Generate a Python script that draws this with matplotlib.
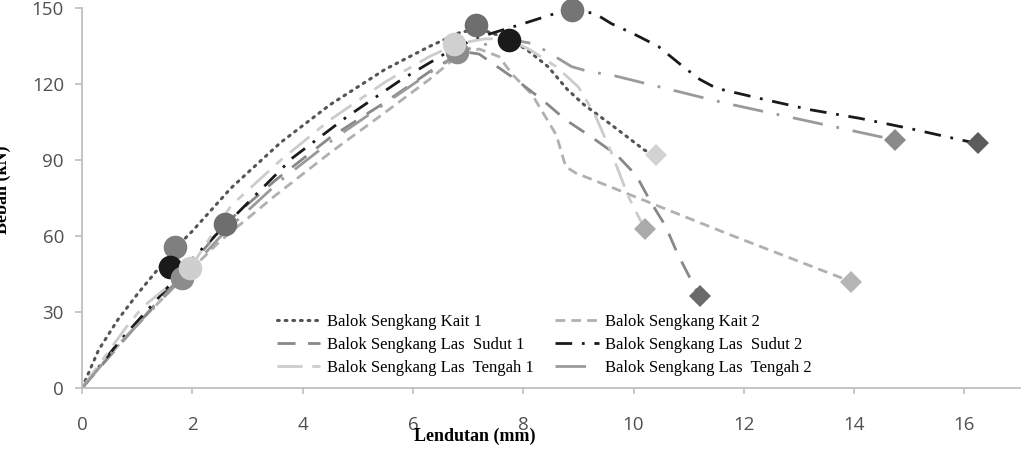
import matplotlib
matplotlib.use("Agg")
import matplotlib.pyplot as plt

# Balok Sengkang Kait 1
kait1_x = [0, 0.3, 0.65, 1.0, 1.68, 2.0, 2.7, 3.6, 4.5, 5.5, 6.3, 6.85, 7.2, 7.6, 8.05, 8.45, 8.8, 9.1, 9.6, 10.2, 10.4]
kait1_y = [0, 15, 27, 37, 55, 62, 79, 97, 112, 126, 135, 140.5, 142, 139, 134, 127, 118, 112, 104, 94, 92]

# Balok Sengkang Kait 2
kait2_x = [0, 0.5, 1.0, 1.8, 2.5, 3.5, 4.5, 5.5, 6.3, 6.8, 7.2, 7.56, 7.8, 8.16, 8.6, 8.77, 8.95, 11.7, 13.95]
kait2_y = [0, 13, 25, 43, 58, 76, 93, 109, 122, 131, 134, 131, 124, 116, 100, 87.5, 85, 61, 42]

# Balok Sengkang Las Sudut 1
sudut1_x = [0, 0.6, 1.2, 1.8, 2.6, 3.5, 4.5, 5.5, 6.3, 6.9, 7.2, 7.86, 8.34, 8.77, 9.25, 9.7, 10.05, 10.3, 10.58, 10.8, 11.2]
sudut1_y = [0, 15, 30, 44, 65, 82, 99, 113, 125, 133, 132, 122, 114, 106, 99, 92, 84, 74, 64, 53, 36]

# Balok Sengkang Las Sudut 2
sudut2_x = [0, 0.7, 1.36, 2.04, 2.86, 3.82, 4.79, 5.8, 6.8, 7.4, 8.0, 8.5, 8.9, 9.3, 9.6, 10.0, 10.45, 10.9, 11.2, 11.5, 12.26, 13.2, 14.1, 15.0, 15.8, 16.2]
sudut2_y = [0, 19, 35, 52, 70, 91, 107, 122, 135, 140, 144, 147.5, 149.5, 148, 144, 140, 135, 127, 122, 118.5, 114.6, 110, 106.6, 102.6, 98.7, 96.8]

# Balok Sengkang Las Tengah 1
tengah1_x = [0, 0.8, 1.1, 1.95, 2.7, 3.6, 4.5, 5.5, 6.3, 6.8, 7.3, 7.7, 8.1, 8.6, 9.0, 9.3, 9.6, 9.9, 10.2]
tengah1_y = [0, 24, 32, 47, 72, 90, 106, 121, 131, 136, 138, 138, 134, 127, 119, 108, 93, 76, 63]

# Balok Sengkang Las Tengah 2
tengah2_x = [0, 0.7, 1.8, 2.6, 3.6, 4.6, 5.6, 6.4, 7.0, 7.7, 8.2, 8.88, 9.2, 9.6, 11.66, 14.75]
tengah2_y = [0, 18, 43, 62, 82, 99, 114, 126, 134, 138, 136, 127, 125, 123.7, 112.6, 98]

# circle markers (first crack / peak) and diamond markers (end)
circle_x = [1.68, 1.59, 1.81, 1.95, 2.59, 7.14, 6.8, 6.75, 7.74, 8.88]
circle_y = [55.6, 47.7, 43.3, 47.3, 65, 143.5, 133, 136, 137.6, 149.5]
circle_c = ['#7f7f7f', '#1a1a1a', '#8c8c8c', '#cfcfcf', '#6e6e6e', '#6e6e6e', '#8c8c8c', '#d0d0d0', '#1a1a1a', '#757575']

diamond_x = [10.4, 10.2, 11.2, 13.95, 14.75, 16.25]
diamond_y = [92, 63, 36.5, 42, 98, 96.8]
diamond_c = ['#d3d3d3', '#ababab', '#6a6a6a', '#b5b5b5', '#8a8a8a', '#5c5c5c']

x_ticks = [0, 2, 4, 6, 8, 10, 12, 14, 16]
y_ticks = [0, 30, 60, 90, 120, 150]

fig = plt.figure(figsize=(10.33, 4.59), dpi=100)
ax = fig.add_axes([0.0794, 0.1547, 0.9076, 0.8268])

lw = 2.0
h_k1, = ax.plot(kait1_x, kait1_y, color='#555555', lw=2.2, linestyle=(0, (0.6, 1.9)),
                dash_capstyle='round', label='Balok Sengkang Kait 1')
h_k2, = ax.plot(kait2_x, kait2_y, color='#b0b0b0', lw=lw, linestyle=(0, (3.5, 2.2)),
                label='Balok Sengkang Kait 2')
h_s1, = ax.plot(sudut1_x, sudut1_y, color='#888888', lw=lw, linestyle=(0, (6.5, 4.5)),
                label='Balok Sengkang Las  Sudut 1')
h_s2, = ax.plot(sudut2_x, sudut2_y, color='#1a1a1a', lw=lw, linestyle=(0, (6, 3.5, 1, 3.5)),
                label='Balok Sengkang Las  Sudut 2')
h_t1, = ax.plot(tengah1_x, tengah1_y, color='#cccccc', lw=lw, linestyle=(0, (9, 3.5, 3, 3.5)),
                label='Balok Sengkang Las  Tengah 1')
h_t2, = ax.plot(tengah2_x, tengah2_y, color='#9a9a9a', lw=lw, linestyle=(0, (11, 5, 1, 5)),
                label='Balok Sengkang Las  Tengah 2')

for x, y, c in zip(circle_x, circle_y, circle_c):
    ax.plot([x], [y], 'o', ms=17, color=c, mew=0, zorder=5, clip_on=False)
for x, y, c in zip(diamond_x, diamond_y, diamond_c):
    ax.plot([x], [y], 'D', ms=11, color=c, mew=0, zorder=5, clip_on=False)

ax.set_xlim(0, 17)
ax.set_ylim(0, 150)
ax.set_xticks(x_ticks)
ax.set_yticks(y_ticks)

for s in ['top', 'right']:
    ax.spines[s].set_visible(False)
for s in ['left', 'bottom']:
    ax.spines[s].set_color('#bfbfbf')
    ax.spines[s].set_linewidth(1.3)

ax.tick_params(axis='both', colors='#bfbfbf', labelcolor='#505050', labelsize=13.5, width=1.2)
ax.tick_params(axis='y', length=5, pad=8)
ax.tick_params(axis='x', length=4, pad=16)
for lab in ax.get_xticklabels() + ax.get_yticklabels():
    lab.set_fontfamily('Open Sans')

# row-major order like the original legend
handles = [h_k1, h_s1, h_t1, h_k2, h_s2, h_t2]
leg = ax.legend(handles=handles, labels=[h.get_label() for h in handles],
                ncol=2, frameon=False, loc='upper left',
                bbox_to_anchor=(277 / 1033, 1 - 314 / 459), bbox_transform=fig.transFigure,
                borderaxespad=0, borderpad=0, handlelength=2.6, handletextpad=0.4,
                columnspacing=1.3, labelspacing=0.42,
                prop={'family': 'Liberation Serif', 'size': 12})

fig.text(475 / 1033, 1 - 436 / 459, 'Lendutan (mm)', ha='center', va='center',
         fontfamily='Liberation Serif', fontweight='bold', fontsize=13)
fig.text(2 / 1033, 1 - 190 / 459, 'Beban (kN)', ha='center', va='center', rotation=90,
         fontfamily='Liberation Serif', fontweight='bold', fontsize=13)

fig.savefig('out.png', dpi=100)
